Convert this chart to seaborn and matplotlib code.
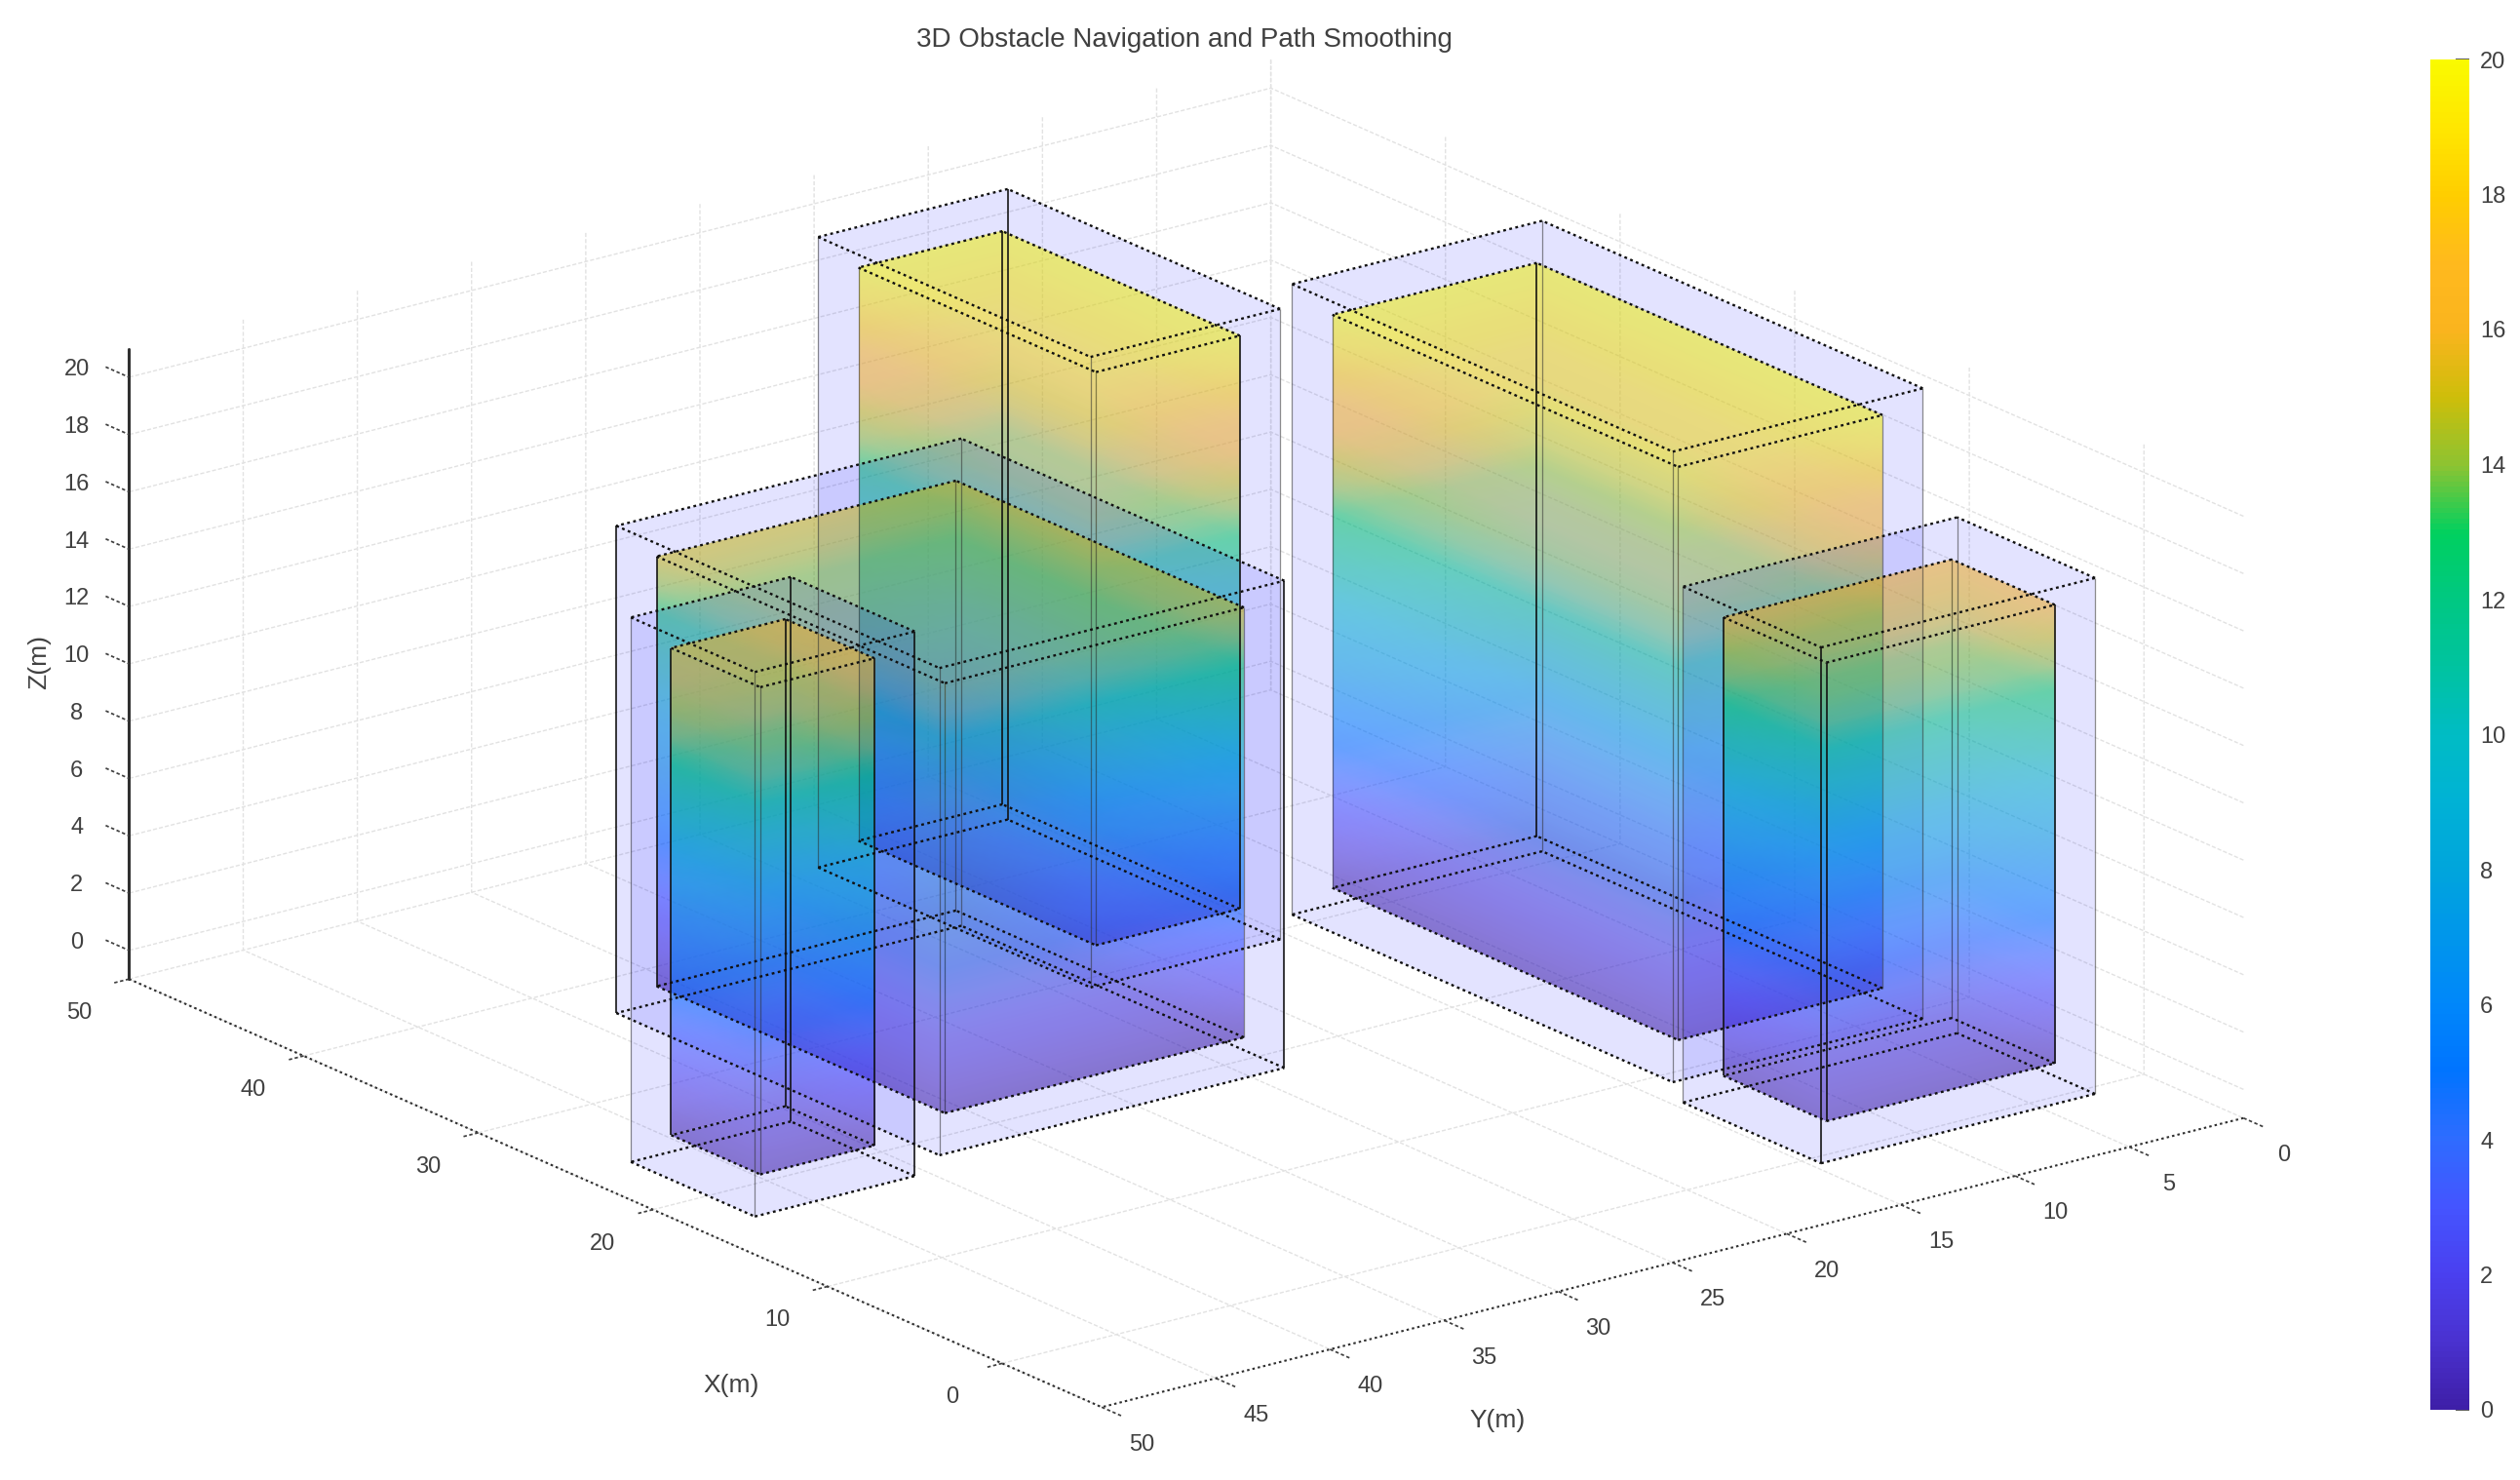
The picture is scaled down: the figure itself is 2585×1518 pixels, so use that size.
import numpy as np
import matplotlib
matplotlib.use('Agg')
import matplotlib.pyplot as plt
import seaborn as sns
from matplotlib.cm import ScalarMappable
from matplotlib.colors import Normalize
from matplotlib.image import AxesImage
from matplotlib.transforms import Affine2D
from mpl_toolkits.mplot3d import proj3d
from mpl_toolkits.mplot3d.art3d import Poly3DCollection, Line3DCollection

# obstacles (metres)
x_low = [10.2, 30.2, 19.5, 18.3, 0.4]
x_high = [30.0, 43.8, 36.0, 23.4, 6.3]
y_low = [3.65, 16.5, 24.5, 41.6, 3.6]
y_high = [12.6, 22.8, 37.6, 46.6, 13.6]
heights = [20, 20, 15, 17, 16]
margin = 1

x_ticks = [0, 10, 20, 30, 40, 50]
y_ticks = [0, 5, 10, 15, 20, 25, 30, 35, 40, 45, 50]
z_ticks = [0, 2, 4, 6, 8, 10, 12, 14, 16, 18, 20]

# colorbar of the reference, one colour per metre from 0 to 20
bar_colors = ['#3E1FA8', '#4A32D0', '#4A40F0', '#4455FF', '#2E6CFF', '#0074FF', '#0087FA',
              '#0096EB', '#00A5DC', '#00B2D5', '#00BCC4', '#00C3A0', '#00C882', '#00D05F',
              '#8CC332', '#CDBE0A', '#FAB41E', '#FFB91E', '#FFCD00', '#FFE600', '#FAFA00']

# which vertical edges print dark: corner order right, back, left, front
inner_dark = [[1], [0, 1], [2], [0, 1, 2], [0, 2, 3]]
outer_dark = [[], [1], [0, 2], [0, 1], [3]]

sns.set_theme(style='white', font='Liberation Sans')
plt.rcParams['font.family'] = ['Liberation Sans', 'DejaVu Sans']
TXT = '#404040'
cmap = sns.blend_palette(bar_colors, n_colors=256, as_cmap=True)
norm = Normalize(0, 20)
INNER_ALPHA = 0.33
OUTER = (0.0, 0.0, 1.0, 0.055)
DOTS = (0, (1.2, 1.5))


def box_corners(x0, x1, y0, y1):
    return [(x0, y0), (x1, y0), (x1, y1), (x0, y1)]


def add_edges(corners, z0, z1, dark, strong, weak, rims):
    for i, (px, py) in enumerate(corners):
        qx, qy = corners[(i + 1) % 4]
        target = strong if i in dark else weak
        target.append([(px, py, z0), (px, py, z1)])
        rims.append([(px, py, z0), (qx, qy, z0)])
        rims.append([(px, py, z1), (qx, qy, z1)])


W, H = 2585, 1518
fig = plt.figure(figsize=(W / 100, H / 100), dpi=100, facecolor='white')
S = 2247
ax = fig.add_axes([63 / W, -388 / H, S / W, S / H], projection='3d', computed_zorder=False)
ax.set_proj_type('ortho')
ax.view_init(elev=19.5, azim=142.82)
ax.set_box_aspect((1651, 1470, 686))
ax.set_xlim(-5.7, 50)
ax.set_ylim(0, 50)
ax.set_zlim(-1, 21)
M = ax.get_proj()


def project(pt):
    return proj3d.proj_transform(pt[0], pt[1], pt[2], M)


# faces as (points, colour): colour None means gradient by height
faces = []
strong, weak, rims = [], [], []
for n, (x0, x1, y0, y1, h) in enumerate(zip(x_low, x_high, y_low, y_high, heights)):
    c = box_corners(x0 - margin, x1 + margin, y0 - margin, y1 + margin)
    zb, zt = -margin, h + margin
    for i in range(4):
        p, q = c[i], c[(i + 1) % 4]
        faces.append(([(*p, zb), (*q, zb), (*q, zt), (*p, zt)], OUTER))
    for z in (zb, zt):
        faces.append(([(*p, z) for p in c], OUTER))
    add_edges(c, zb, zt, outer_dark[n], strong, weak, rims)

    c = box_corners(x0, x1, y0, y1)
    for i in range(4):
        p, q = c[i], c[(i + 1) % 4]
        faces.append(([(*p, 0), (*q, 0), (*q, h), (*p, h)], None))
    for z in (0, h):
        r, g, b, _ = cmap(norm(z))
        faces.append(([(*p, z) for p in c], (r, g, b, INNER_ALPHA)))
    add_edges(c, 0, h, inner_dark[n], strong, weak, rims)

# paint from far to near
faces.sort(key=lambda f: -project(np.mean(f[0], axis=0))[2])
for k, (pts, col) in enumerate(faces):
    order = 2 + k * 0.001
    if col is not None:
        ax.add_collection3d(Poly3DCollection([pts], facecolors=[col], edgecolors='none', zorder=order))
        continue
    # gradient wall: one image stretched onto the wall
    levels = np.linspace(0, pts[2][2], 200)
    rgba = cmap(norm(levels))
    rgba[:, 3] = INNER_ALPHA
    data = np.stack([rgba, rgba], axis=1)
    ox, oy, _ = project(pts[0])
    ax_, ay_, _ = project(pts[1])
    bx_, by_, _ = project(pts[3])
    im = AxesImage(ax, interpolation='bilinear', origin='lower', extent=(0, 1, 0, 1))
    im.set_data(data)
    im.set_transform(Affine2D.from_values(ax_ - ox, ay_ - oy, bx_ - ox, by_ - oy, ox, oy) + ax.transData)
    im.set_zorder(order)
    ax.add_artist(im)

ax.add_collection3d(Line3DCollection(weak, colors='#303030', linewidths=0.9, alpha=0.55, zorder=3))
ax.add_collection3d(Line3DCollection(strong, colors='#101010', linewidths=1.3, alpha=0.9, zorder=3))
ax.add_collection3d(Line3DCollection(rims, colors='#101010', linewidths=1.7, linestyles=[DOTS], zorder=3))

ax.set_xticks(x_ticks)
ax.set_yticks(y_ticks)
ax.set_zticks(z_ticks)
for axis in (ax.xaxis, ax.yaxis, ax.zaxis):
    axis.set_pane_color((1, 1, 1, 1))
    axis.pane.set_edgecolor('none')
    axis._axinfo['grid'].update(color='#e2e2e2', linewidth=1.0, linestyle=(0, (3, 1.5)))
    axis.line.set_color('#303030')
    axis.line.set_linewidth(1.5)
    axis.line.set_linestyle(DOTS)
ax.xaxis._axinfo['tick'].update(inward_factor=0.18, outward_factor=0)
ax.yaxis._axinfo['tick'].update(inward_factor=0.27, outward_factor=0)
ax.zaxis._axinfo['tick'].update(inward_factor=0, outward_factor=0.3)
ax.zaxis.line.set_linestyle('-')
ax.zaxis.line.set_linewidth(2.2)
ax.zaxis.set_ticks_position('upper')
ax.zaxis._get_tickdir = lambda pos: 0  # ticks along x, as in the reference
ax.tick_params(axis='x', labelsize=17, labelcolor=TXT, color=TXT, width=1, pad=24)
ax.tick_params(axis='y', labelsize=17, labelcolor=TXT, color=TXT, width=1, pad=24)
ax.tick_params(axis='z', labelsize=17, labelcolor=TXT, color=TXT, width=1, pad=14)


# mplot3d resets label transforms and tick line styles while drawing, so wrap it
def nudge_ticks(axis, dx, dy):
    base = axis.get_major_ticks
    offset = ax.transData + Affine2D().translate(dx, dy)

    def patched(numticks=None):
        ticks = base(numticks)
        for t in ticks:
            t.label1.set_transform(offset)
            t.tick1line.set_linestyle((0, (2, 1.5)))
            t.tick1line.set_linestyle = lambda *a, **k: None
        return ticks
    axis.get_major_ticks = patched


nudge_ticks(ax.xaxis, -7, 12)
nudge_ticks(ax.yaxis, 3, 14)
nudge_ticks(ax.zaxis, 3, 15)

fig.text(1215 / W, 1 - 41 / H, '3D Obstacle Navigation and Path Smoothing', fontsize=20,
         color=TXT, ha='center', va='center')
fig.text(750 / W, 1 - 1421 / H, 'X(m)', fontsize=19, color=TXT, ha='center', va='center')
fig.text(1536 / W, 1 - 1457 / H, 'Y(m)', fontsize=19, color=TXT, ha='center', va='center')
fig.text(40 / W, 1 - 679 / H, 'Z(m)', fontsize=19, color=TXT, ha='center', va='center', rotation=90)

cax = fig.add_axes([2493 / W, 1 - 1446 / H, 40 / W, 1385 / H])
cbar = fig.colorbar(ScalarMappable(norm=norm, cmap=cmap), cax=cax, ticks=z_ticks)
cbar.outline.set_visible(False)
cbar.ax.tick_params(direction='in', length=10, width=1.2, color='#404040', labelsize=17,
                    labelcolor=TXT, pad=8)

fig.savefig('out.png', dpi=100, facecolor='white')
